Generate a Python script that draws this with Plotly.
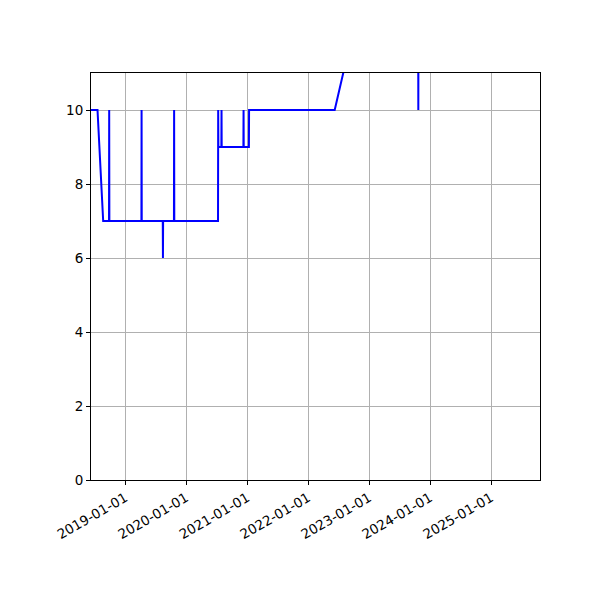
import plotly.graph_objects as go

dates = [
    "2018-06-01", "2018-07-19", "2018-08-22", "2018-09-26", "2018-09-27", "2018-09-28",
    "2019-04-08", "2019-04-09", "2019-04-10",
    "2019-08-14", "2019-08-15", "2019-08-16",
    "2019-10-20", "2019-10-21", "2019-10-22",
    "2020-07-10", "2020-07-11", "2020-07-12",
    "2020-07-30", "2020-07-31", "2020-08-01",
    "2020-12-09", "2020-12-10", "2020-12-11",
    "2021-01-11", "2021-01-12",
    "2022-06-09", "2022-10-15", "2023-03-01",
    "2023-10-22", "2023-10-23", "2023-10-24", "2024-06-01", "2025-01-15",
]
values = [
    10, 10, 7, 7, 10, 7,
    7, 10, 7,
    7, 6, 7,
    7, 10, 7,
    7, 10, 9,
    9, 10, 9,
    9, 10, 9,
    9, 10,
    10, 12.5, 13,
    13, 10, 13, 14, 14,
]

x_range = ["2018-06-10", "2025-10-21"]
y_ticks = [0, 2, 4, 6, 8, 10]
x_ticks = ["2019-01-01", "2020-01-01", "2021-01-01", "2022-01-01",
           "2023-01-01", "2024-01-01", "2025-01-01"]

fig = go.Figure(go.Scatter(x=dates, y=values, mode="lines",
                           line=dict(color="#0000ff", width=2)))

axis_common = dict(showline=True, linecolor="black", linewidth=1, mirror=True,
                   showgrid=True, gridcolor="#b0b0b0", gridwidth=0.8,
                   ticks="outside", ticklen=4, tickcolor="black",
                   zeroline=False, tickfont=dict(family="DejaVu Sans", size=13.5, color="black"))

fig.update_xaxes(type="date", range=x_range, tickvals=x_ticks, ticktext=x_ticks,
                 tickangle=-30, **axis_common)
fig.update_yaxes(range=[0, 11], tickvals=y_ticks, **axis_common)

fig.update_layout(width=600, height=600, plot_bgcolor="white", paper_bgcolor="white",
                  margin=dict(l=83, r=68, t=65, b=128), showlegend=False)

fig.write_html("out.html")
